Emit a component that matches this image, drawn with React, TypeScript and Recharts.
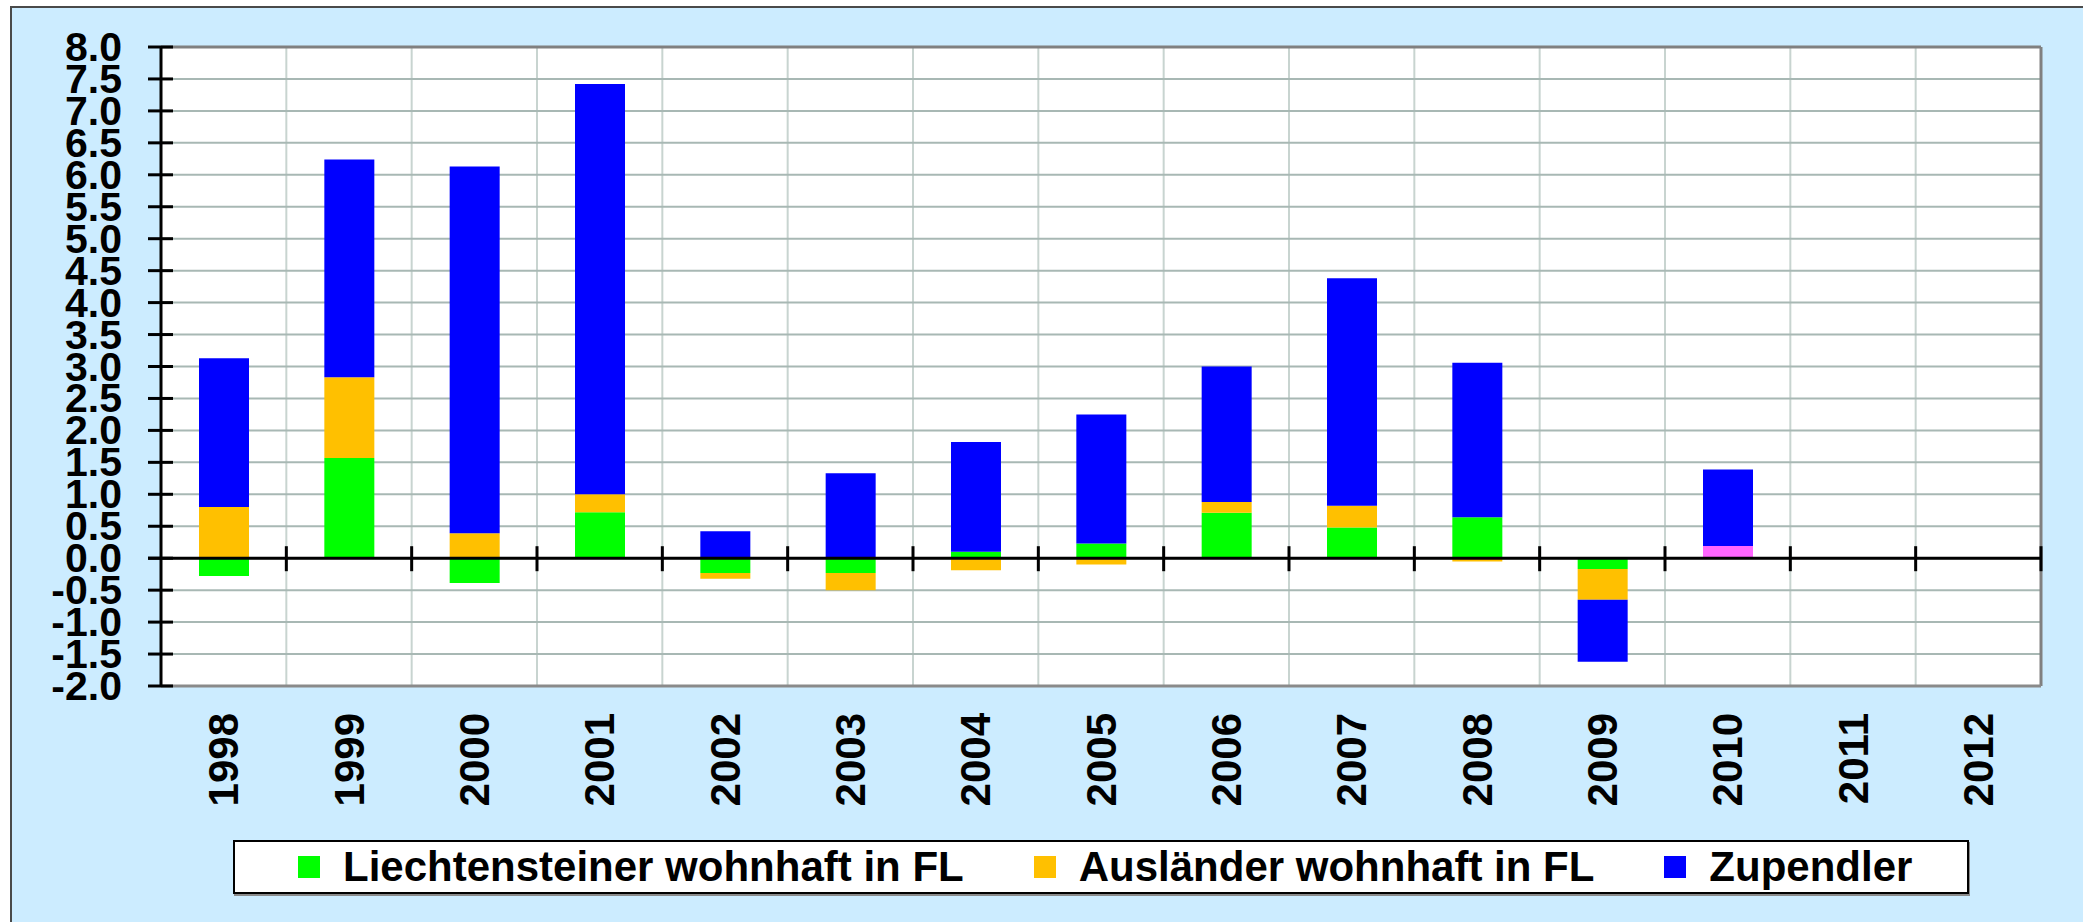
import React from 'react';
import { BarChart, Bar, XAxis, YAxis, CartesianGrid, ReferenceLine, Cell } from 'recharts';

const years = ['1998', '1999', '2000', '2001', '2002', '2003', '2004', '2005', '2006', '2007', '2008', '2009', '2010', '2011', '2012'];
const liechtensteiner = [-0.28, 1.57, -0.39, 0.72, -0.23, -0.23, 0.10, 0.23, 0.71, 0.48, 0.64, -0.17, 0.19, null, null];
const auslaender = [0.80, 1.26, 0.39, 0.28, -0.09, -0.27, -0.19, -0.10, 0.17, 0.34, -0.05, -0.48, 0, null, null];
const zupendler = [2.33, 3.41, 5.74, 6.42, 0.42, 1.33, 1.72, 2.02, 2.12, 3.56, 2.42, -0.97, 1.20, null, null];
const yTicks = [-2, -1.5, -1, -0.5, 0, 0.5, 1, 1.5, 2, 2.5, 3, 3.5, 4, 4.5, 5, 5.5, 6, 6.5, 7, 7.5, 8];
const highlightYear = '2010';

const seriesNames = ['Liechtensteiner wohnhaft in FL', 'Ausländer wohnhaft in FL', 'Zupendler'];
const seriesColors = ['#00FF00', '#FFC000', '#0000FF'];
const highlightColor = '#FF66FF';

const data = years.map((y, i) => ({
  year: y,
  li: liechtensteiner[i],
  au: auslaender[i],
  zu: zupendler[i],
}));

const FONT = '"Liberation Sans", Arial, sans-serif';
const W = 2083;
const H = 922;
const Y_AXIS_W = 140;
const MARGIN = { top: 47, right: 42, left: 21, bottom: 106 };
const PLOT_LEFT = MARGIN.left + Y_AXIS_W;
const PLOT_W = W - MARGIN.left - MARGIN.right - Y_AXIS_W;
const N = years.length;

const boundaryCoords = (props: any) => {
  const off = props.offset;
  const out: number[] = [];
  for (let k = 1; k < N; k++) out.push(off.left + (k * off.width) / N);
  return out;
};
const rightEdgeCoords = (props: any) => {
  const off = props.offset;
  return [off.left + off.width];
};

const ZeroLine = (props: any) => {
  const y = Number(props.y1 ?? props.y);
  const ticks: number[] = [];
  for (let k = 1; k <= N; k++) ticks.push(PLOT_LEFT + (k * PLOT_W) / N);
  return (
    <g>
      <line x1={PLOT_LEFT - 13} x2={PLOT_LEFT + PLOT_W} y1={y} y2={y} stroke="#000" strokeWidth={3} />
      {ticks.map((tx) => (
        <line key={tx} x1={tx} x2={tx} y1={y - 12} y2={y + 13} stroke="#000" strokeWidth={3} />
      ))}
    </g>
  );
};

const YTick = (props: any) => {
  const { y, payload } = props;
  return (
    <g>
      <line x1={PLOT_LEFT - 13} x2={PLOT_LEFT + 12} y1={y} y2={y} stroke="#000" strokeWidth={3} />
      <text
        x={PLOT_LEFT - 39}
        y={y}
        textAnchor="end"
        dominantBaseline="central"
        fontFamily={FONT}
        fontWeight="bold"
        fontSize={41}
        fill="#000"
      >
        {Number(payload.value).toFixed(1)}
      </text>
    </g>
  );
};

const XTick = (props: any) => {
  const { x, y, payload } = props;
  return (
    <text
      x={x}
      y={y}
      transform={`rotate(-90, ${x}, ${y})`}
      textAnchor="end"
      dominantBaseline="central"
      fontFamily={FONT}
      fontWeight="bold"
      fontSize={42}
      fill="#000"
    >
      {payload.value}
    </text>
  );
};

export default function App() {
  return (
    <div style={{ position: 'fixed', left: 0, top: 0, width: W, height: H, overflow: 'hidden' }}>
      <div
        style={{
          position: 'absolute',
          left: 10,
          top: 6,
          width: 2200,
          height: 1100,
          background: '#CCECFF',
          borderTop: '2px solid #4a4a4a',
          borderLeft: '2px solid #4a4a4a',
        }}
      />
      <div style={{ position: 'absolute', left: 0, top: 0 }}>
        <BarChart width={W} height={H} data={data} margin={MARGIN} stackOffset="sign" barSize={50}>
          <CartesianGrid
            horizontal={false}
            vertical
            verticalCoordinatesGenerator={boundaryCoords}
            stroke="#C8D4D0"
            strokeWidth={2}
            fill="#FFFFFF"
          />
          <CartesianGrid vertical={false} horizontal stroke="#A8B8B4" strokeWidth={2} />
          <CartesianGrid
            horizontal={false}
            vertical
            verticalCoordinatesGenerator={rightEdgeCoords}
            stroke="#808080"
            strokeWidth={3}
          />
          <XAxis
            dataKey="year"
            type="category"
            axisLine={false}
            tickLine={false}
            tickSize={0}
            tickMargin={27}
            height={130}
            interval={0}
            tick={<XTick />}
          />
          <YAxis
            type="number"
            domain={[-2, 8]}
            ticks={yTicks}
            interval={0}
            width={Y_AXIS_W}
            allowDataOverflow
            axisLine={{ stroke: '#000', strokeWidth: 3 }}
            tickLine={false}
            tick={<YTick />}
          />
          <Bar dataKey="li" stackId="s" name={seriesNames[0]} fill={seriesColors[0]} isAnimationActive={false}>
            {data.map((d) => (
              <Cell key={d.year} fill={d.year === highlightYear ? highlightColor : seriesColors[0]} />
            ))}
          </Bar>
          <Bar dataKey="au" stackId="s" name={seriesNames[1]} fill={seriesColors[1]} isAnimationActive={false} />
          <Bar dataKey="zu" stackId="s" name={seriesNames[2]} fill={seriesColors[2]} isAnimationActive={false} />
          <ReferenceLine y={8} stroke="#808080" strokeWidth={3} />
          <ReferenceLine y={-2} stroke="#8a8a8a" strokeWidth={3} />
          <ReferenceLine y={0} shape={<ZeroLine />} />
        </BarChart>
      </div>
      <div
        style={{
          position: 'absolute',
          left: 233,
          top: 840,
          width: 1736,
          height: 54,
          boxSizing: 'border-box',
          background: '#FFFFFF',
          border: '2px solid #000',
          boxShadow: '1px 2px 0 #8a8a8a',
          display: 'flex',
          alignItems: 'center',
          paddingLeft: 63,
          fontFamily: FONT,
          fontWeight: 'bold',
          fontSize: 42,
          color: '#000',
          whiteSpace: 'nowrap',
        }}
      >
        {seriesNames.map((n, i) => (
          <div key={n} style={{ display: 'flex', alignItems: 'center', marginLeft: i === 0 ? 0 : 70 }}>
            <div style={{ width: 22, height: 22, background: seriesColors[i], marginRight: 23 }} />
            <span style={{ lineHeight: '50px' }}>{n}</span>
          </div>
        ))}
      </div>
    </div>
  );
}
